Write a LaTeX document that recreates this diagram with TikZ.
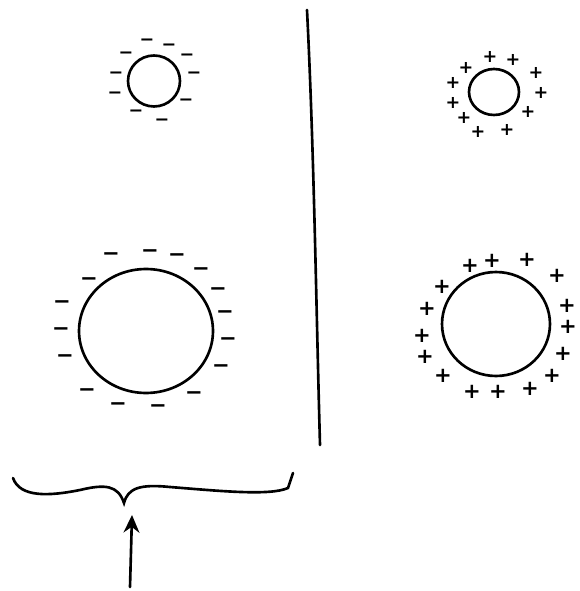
\documentclass[tikz,border=0pt]{standalone}
\usepackage{fontspec}
\newfontfamily\chargefont{DejaVu Sans}
\usetikzlibrary{shapes.geometric,arrows.meta}
\begin{document}
\begin{tikzpicture}[x=0.02cm, y=-0.02cm,
                    line width=1.5pt, line cap=round,
                    sphere/.style={draw, ellipse, inner sep=0pt},
                    negcharge/.style={inner sep=0pt, text height=0.66em, text depth=0pt,
                                      font=\chargefont\bfseries\fontsize{12}{12}\selectfont},
                    poscharge/.style={inner sep=0pt, text height=0.66em, text depth=0pt,
                                      font=\chargefont\bfseries\fontsize{12}{12}\selectfont},
                    small/.style={font=\chargefont\bfseries\fontsize{10}{10}\selectfont}
                    ]
    \useasboundingbox (0,0) rectangle (579,591);

    % left: negatively charged spheres
    \node[sphere, minimum width=1.04cm, minimum height=1.02cm] (smallneg) at (154,81) {};
    \node[sphere, minimum width=2.68cm, minimum height=2.48cm] (bigneg) at (146,331) {};
    \foreach \x/\y [count=\i] in {147/40,169/45,187/55,126/53,194/73,116/73,115/93,186/100,136/111,162/120}{
        \node[negcharge, small] (sn\i) at (\x,\y) {−};
    }
    \foreach \x/\y [count=\i] in {150/252,111/255,177/256,201/270,89/280,218/290,62/303,225/313,
                                  61/330,228/340,65/357,221/367,87/391,194/394,118/405,158/407}{
        \node[negcharge] (bn\i) at (\x,\y) {−};
    }

    % right: positively charged spheres
    \node[sphere, minimum width=1.0cm, minimum height=0.92cm] (smallpos) at (494,92) {};
    \node[sphere, minimum width=2.16cm, minimum height=2.08cm] (bigpos) at (496,324) {};
    \foreach \x/\y [count=\i] in {490/57,513/60,466/68,536/73,453/83,541/93,453/103,528/112,464/118,478/132,507/130}{
        \node[poscharge, small] (sp\i) at (\x,\y) {+};
    }
    \foreach \x/\y [count=\i] in {470/267,492/262,527/261,557/277,442/288,567/307,427/310,568/328,
                                  422/337,563/355,425/358,552/377,443/377,472/393,498/393,530/390}{
        \node[poscharge] (bp\i) at (\x,\y) {+};
    }

    % dividing line
    \coordinate (top) at (307,10);
    \coordinate (bottom) at (320,445);
    \draw (top) .. controls (314,150) and (316,300) .. (bottom);

    % brace and arrow
    \coordinate (braceleft) at (13,478);
    \coordinate (bracetip) at (124,503);
    \coordinate (braceright) at (293,473);
    \draw (braceleft) .. controls (20,498) and (50,496) .. (80,490)
          .. controls (105,484) and (118,485) .. (bracetip)
          .. controls (128,488) and (140,484) .. (170,487)
          .. controls (220,491) and (270,496) .. (288,488)
          -- (braceright);
    \coordinate (arrowtail) at (130,587);
    \coordinate (arrowhead) at (132,515);
    \draw[-{Stealth[length=10pt,width=9pt]}] (arrowtail) -- (arrowhead);
\end{tikzpicture}
\end{document}
